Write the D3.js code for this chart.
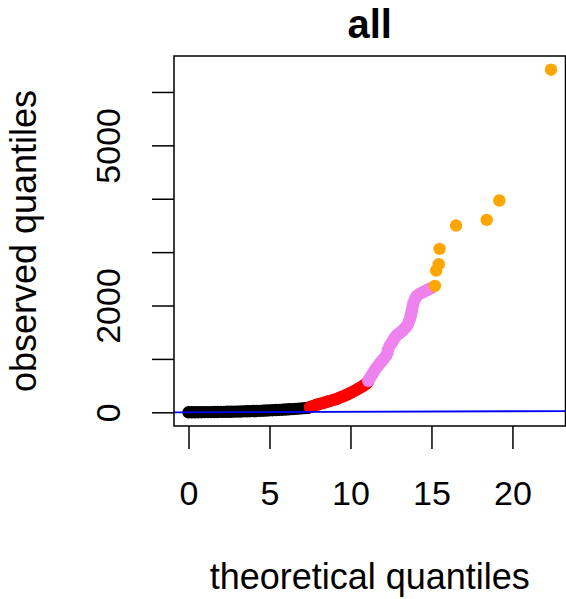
<!DOCTYPE html>
<html>
<head>
<meta charset="utf-8">
<script src="https://cdn.jsdelivr.net/npm/d3@7"></script>
<style>
  body { margin: 0; background: #fff; }
  svg { display: block; font-family: "Liberation Sans", Arial, sans-serif; }
</style>
</head>
<body>
<div id="chart"></div>
<script>
// values, grouped by colour
const blackX = [0, 0.2, 0.4, 0.6, 0.8, 1.0, 1.2, 1.4, 1.6, 1.8, 2.0, 2.2, 2.4, 2.6, 2.8, 3.0, 3.2, 3.4, 3.6, 3.8,
  4.0, 4.2, 4.4, 4.6, 4.8, 5.0, 5.2, 5.4, 5.6, 5.8, 6.0, 6.2, 6.4, 6.6, 6.8, 7.0, 7.2, 7.4];
const blackY = [0, 1, 1, 2, 2, 3, 3, 4, 5, 6, 7, 8, 9, 10, 12, 13, 15, 17, 19, 21,
  23, 25, 27, 30, 33, 36, 39, 42, 45, 49, 52, 56, 60, 64, 68, 73, 78, 85];

const redX = [7.5, 7.6, 7.75, 7.9, 8.05, 8.2, 8.35, 8.5, 8.65, 8.8, 8.95, 9.1, 9.25, 9.4, 9.55, 9.7, 9.85,
  10.0, 10.15, 10.3, 10.45, 10.6, 10.75, 10.9, 11.0, 11.08];
const redY = [95, 108, 125, 140, 152, 165, 178, 192, 206, 218, 232, 244, 262, 282, 300, 318, 340,
  362, 386, 410, 436, 462, 488, 520, 545, 570];

const pinkX = [11.1, 11.2, 11.3, 11.4, 11.5, 11.6, 11.7, 11.8, 11.9, 12.0, 12.1, 12.2, 12.28, 12.32, 12.4,
  12.5, 12.6, 12.7, 12.8, 12.9, 13.03, 13.15, 13.25, 13.35, 13.45, 13.55, 13.62, 13.68, 13.72, 13.76,
  13.8, 13.84, 13.9, 14.0, 14.1, 14.25, 14.4, 14.55, 14.7, 14.85, 14.98];
const pinkY = [590, 640, 690, 740, 790, 830, 870, 910, 945, 980, 1020, 1060, 1110, 1170, 1230,
  1280, 1330, 1380, 1420, 1455, 1481, 1510, 1540, 1570, 1605, 1650, 1710, 1762, 1810, 1860,
  1920, 1990, 2060, 2130, 2180, 2215, 2240, 2262, 2285, 2305, 2325];

const orangeX = [15.21, 15.29, 15.45, 15.5, 16.52, 18.41, 19.19, 22.38];
const orangeY = [2368, 2655, 2775, 3061, 3498, 3605, 3967, 6417];

const xTicks = [0, 5, 10, 15, 20];
const yTicks = [0, 1000, 2000, 3000, 4000, 5000, 6000];
const yLabels = [0, 2000, 5000];

const groups = [
  { x: blackX, y: blackY, color: '#000000' },
  { x: redX, y: redY, color: '#FF0000' },
  { x: pinkX, y: pinkY, color: '#EE82EE' },
  { x: orangeX, y: orangeY, color: '#FFA500' }
];

const W = 566, H = 599;
const plot = { left: 174, top: 56, right: 565.5, bottom: 426 };

// R style 4% padding on the data range
const allX = groups.flatMap(g => g.x);
const allY = groups.flatMap(g => g.y);
const [x0, x1] = d3.extent(allX);
const [y0, y1] = d3.extent(allY);
const px = (x1 - x0) * 0.04, py = (y1 - y0) * 0.04;

const x = d3.scaleLinear()
  .domain([x0 - px, x1 + px])
  .range([plot.left, plot.right]);
const y = d3.scaleLinear()
  .domain([y0 - py, y1 + py])
  .range([plot.bottom, plot.top]);

const svg = d3.select('#chart')
  .append('svg')
  .attr('width', W)
  .attr('height', H);

svg.append('clipPath')
  .attr('id', 'clip')
  .append('rect')
  .attr('x', plot.left)
  .attr('y', plot.top)
  .attr('width', plot.right - plot.left)
  .attr('height', plot.bottom - plot.top);

// points
const pts = svg.append('g').attr('clip-path', 'url(#clip)');
groups.forEach(g => {
  pts.append('g')
    .selectAll('circle')
    .data(g.x.map((d, i) => ({ x: d, y: g.y[i] })))
    .join('circle')
    .attr('cx', d => x(d.x))
    .attr('cy', d => y(d.y))
    .attr('r', 6.2)
    .attr('fill', g.color);
});

// abline(0, 1)
const dom = x.domain();
pts.append('line')
  .attr('x1', x(dom[0]))
  .attr('y1', y(dom[0]))
  .attr('x2', x(dom[1]))
  .attr('y2', y(dom[1]))
  .attr('stroke', '#0000FF')
  .attr('stroke-width', 1.8);

// box
svg.append('rect')
  .attr('x', plot.left)
  .attr('y', plot.top)
  .attr('width', plot.right - plot.left)
  .attr('height', plot.bottom - plot.top)
  .attr('fill', 'none')
  .attr('stroke', '#000')
  .attr('stroke-width', 1.5);

// x axis
const xAxis = svg.append('g')
  .attr('transform', `translate(0,${plot.bottom})`)
  .call(d3.axisBottom(x).tickValues(xTicks).tickSize(23).tickFormat(d => d))
  .call(g => g.select('.domain').remove());
xAxis.selectAll('.tick line').attr('stroke', '#000').attr('stroke-width', 1.5);
xAxis.selectAll('.tick text')
  .attr('y', 79)
  .attr('dy', 0)
  .attr('fill', '#000')
  .style('font-size', '34px')
  .style('font-family', '"Liberation Sans", Arial, sans-serif');

// y axis
const yAxis = svg.append('g')
  .attr('transform', `translate(${plot.left},0)`)
  .call(d3.axisLeft(y).tickValues(yTicks).tickSize(22)
    .tickFormat(d => yLabels.includes(d) ? d : ''))
  .call(g => g.select('.domain').remove());
yAxis.selectAll('.tick line').attr('stroke', '#000').attr('stroke-width', 1.5);
yAxis.selectAll('.tick text')
  .attr('transform', 'rotate(-90)')
  .attr('x', 0)
  .attr('y', -54)
  .attr('dy', 0)
  .attr('text-anchor', 'middle')
  .attr('fill', '#000')
  .style('font-size', '34px')
  .style('font-family', '"Liberation Sans", Arial, sans-serif');

// title and axis titles
svg.append('text')
  .attr('x', (plot.left + plot.right) / 2)
  .attr('y', 38)
  .attr('text-anchor', 'middle')
  .style('font-size', '40px')
  .style('font-weight', 'bold')
  .text('all');

svg.append('text')
  .attr('x', (plot.left + plot.right) / 2)
  .attr('y', 589)
  .attr('text-anchor', 'middle')
  .style('font-size', '36px')
  .text('theoretical quantiles');

svg.append('text')
  .attr('transform', `translate(36,${(plot.top + plot.bottom) / 2}) rotate(-90)`)
  .attr('text-anchor', 'middle')
  .style('font-size', '36px')
  .text('observed quantiles');
</script>
</body>
</html>
